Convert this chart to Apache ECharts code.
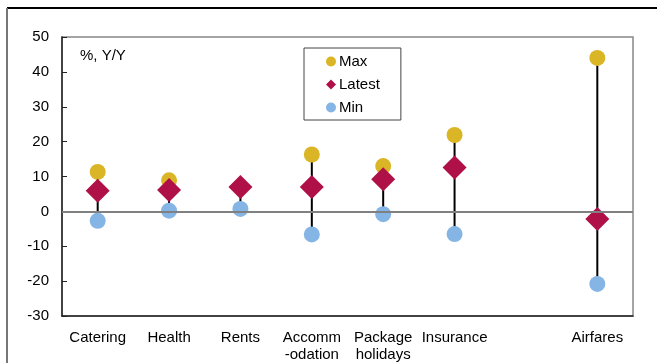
<!DOCTYPE html>
<html>
<head>
<meta charset="utf-8">
<script src="https://cdn.jsdelivr.net/npm/echarts@6/dist/echarts.min.js"></script>
<style>
  html, body { margin: 0; padding: 0; background: #fff; }
  #chart { width: 657px; height: 363px; }
</style>
</head>
<body>
<div id="chart"></div>
<script>
// categories (blank slot between Insurance and Airfares)
var categories = ['Catering', 'Health', 'Rents', 'Accomm\n-odation', 'Package\nholidays', 'Insurance', '', 'Airfares'];
var maxValues = [11.3, 8.9, 7.0, 16.3, 13.0, 21.9, null, 44.0];
var latestValues = [5.9, 6.1, 7.0, 7.0, 9.2, 12.6, null, -2.2];
var minValues = [-2.7, 0.2, 0.7, -6.6, -0.8, -6.5, null, -20.8];
var yTicks = { min: -30, max: 50, step: 10 };

var font = 'Liberation Sans, Arial, sans-serif';

// range data for the vertical lines
var rangeData = categories.map(function (c, i) {
  return [i, minValues[i], maxValues[i]];
}).filter(function (d) { return d[1] != null; });

var myChart = echarts.init(document.getElementById('chart'));
myChart.setOption({
  backgroundColor: '#FFFFFF',
  animation: false,
  textStyle: { fontFamily: font },
  graphic: [
    // outer frame
    { type: 'line', shape: { x1: 7, y1: 8, x2: 657, y2: 8 }, style: { stroke: '#000', lineWidth: 2 } },
    { type: 'line', shape: { x1: 7, y1: 8, x2: 7, y2: 363 }, style: { stroke: '#777', lineWidth: 2 } },
    { type: 'text', left: 80, top: 48, style: { text: '%, Y/Y', fontSize: 15, fontFamily: font, fill: '#000' } }
  ],
  grid: {
    left: 62, right: 24, top: 37, bottom: 44,
    show: true, borderColor: '#888', borderWidth: 1.5
  },
  legend: {
    orient: 'vertical',
    left: 304, top: 48,
    padding: [6, 21, 5, 22],
    borderColor: '#444', borderWidth: 1,
    itemWidth: 10, itemHeight: 10, itemGap: 8,
    textStyle: { fontSize: 15, fontFamily: font, color: '#000', padding: [0, 0, 0, -2] },
    data: [
      { name: 'Max', icon: 'circle' },
      { name: 'Latest', icon: 'diamond' },
      { name: 'Min', icon: 'circle' }
    ]
  },
  xAxis: {
    type: 'category',
    data: categories,
    axisLine: { onZero: false, lineStyle: { color: '#222', width: 1.5 } },
    axisTick: { show: false },
    axisLabel: { interval: 0, fontSize: 15, color: '#000', fontFamily: font, margin: 13, lineHeight: 17 }
  },
  yAxis: {
    type: 'value',
    min: yTicks.min, max: yTicks.max, interval: yTicks.step,
    axisLine: { show: true, lineStyle: { color: '#222', width: 1.5 } },
    axisTick: { show: true, inside: true, length: 5, lineStyle: { color: '#222' } },
    splitLine: { show: false },
    axisLabel: { fontSize: 15, color: '#000', fontFamily: font, margin: 13 }
  },
  series: [
    {
      name: 'range',
      type: 'custom',
      z: 1,
      data: rangeData,
      renderItem: function (params, api) {
        var a = api.coord([api.value(0), api.value(1)]);
        var b = api.coord([api.value(0), api.value(2)]);
        return {
          type: 'line',
          shape: { x1: a[0], y1: a[1], x2: b[0], y2: b[1] },
          style: { stroke: '#000', lineWidth: 2 }
        };
      },
      markLine: {
        silent: true, symbol: 'none', label: { show: false },
        lineStyle: { color: '#808080', width: 2, type: 'solid' },
        data: [{ yAxis: 0 }]
      }
    },
    {
      name: 'Max', type: 'scatter', symbol: 'circle', symbolSize: 16, z: 3,
      itemStyle: { color: '#DAB626', opacity: 1 },
      data: maxValues
    },
    {
      name: 'Min', type: 'scatter', symbol: 'circle', symbolSize: 16, z: 3,
      itemStyle: { color: '#84B5E5', opacity: 1 },
      data: minValues
    },
    {
      name: 'Latest', type: 'scatter', symbol: 'diamond', symbolSize: 24, z: 4,
      itemStyle: { color: '#B01048', opacity: 1 },
      data: latestValues
    }
  ]
});
</script>
</body>
</html>
